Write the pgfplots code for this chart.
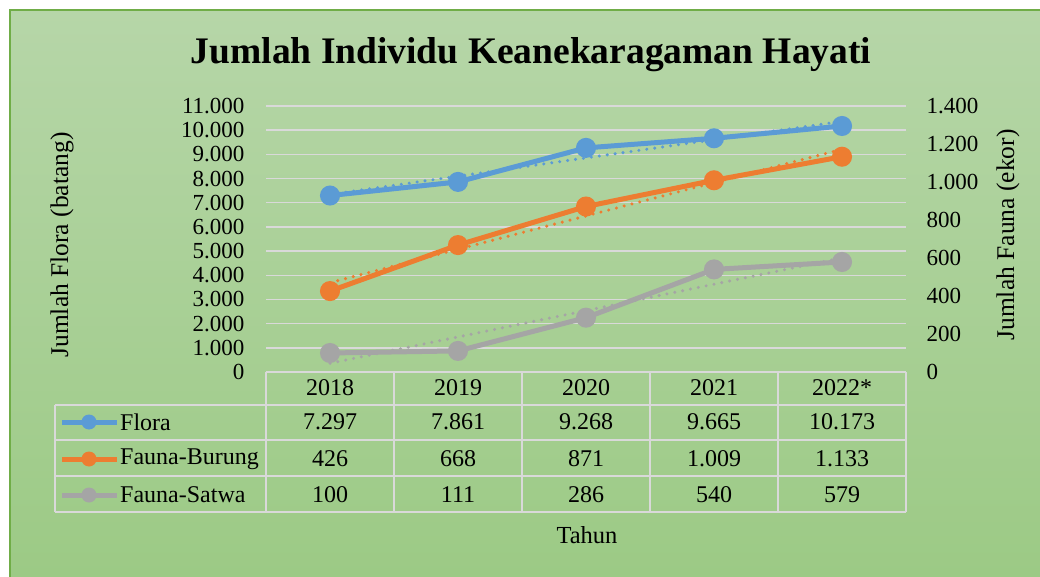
\documentclass[border=0pt]{standalone}
\usepackage{pgfplots}
\pgfplotsset{compat=1.18}
\usepackage{fontspec}
\setmainfont{Liberation Serif}
\definecolor{cFlora}{HTML}{5B9BD5}
\definecolor{cBurung}{HTML}{ED7D31}
\definecolor{cSatwa}{HTML}{A5A5A5}
\definecolor{bgtop}{HTML}{B6D6A8}
\definecolor{bgbot}{HTML}{9CCA85}
\definecolor{framec}{HTML}{70AD47}
\definecolor{gridc}{HTML}{D9D9D9}
\newcommand{\fs}{\fontsize{23}{27}\selectfont}
\newcommand{\ft}{\fontsize{24}{28}\selectfont}
\newcommand{\fa}{\fontsize{25.5}{30}\selectfont}
\begin{document}
\begin{tikzpicture}[x=1pt,y=1pt]
\useasboundingbox (0,0) rectangle (1040,576);
\fill[white] (0,0) rectangle (1040,576);
\shade[top color=bgtop,bottom color=bgbot] (10,0) rectangle (1040,566);
\draw[framec,line width=1.5pt] (10,-5) -- (10,566) -- (1045,566);

\begin{axis}[at={(266pt,204pt)}, anchor=south west, scale only axis,
  width=640pt, height=266pt, xmin=0.5, xmax=5.5, ymin=0, ymax=11000,
  hide x axis, axis y line*=left, y axis line style={draw=none},
  major tick length=0pt, scaled y ticks=false,
  ytick={0,1000,...,11000},
  yticklabels={0,1.000,2.000,3.000,4.000,5.000,6.000,7.000,8.000,9.000,10.000,11.000},
  yticklabel style={font=\fs, anchor=east, xshift=-18pt},
  ymajorgrids, grid style={gridc, line width=1.5pt},
  clip=false]
\addplot[cFlora, line width=5pt, mark=*, mark size=7.5pt, mark options={solid}]
  coordinates {(1,7297)(2,7861)(3,9268)(4,9665)(5,10173)};
\addplot[cFlora, line width=3.4pt, line cap=round, dash pattern=on 0pt off 8pt]
  coordinates {(1,7341.6)(5,10364)};
\end{axis}

\begin{axis}[at={(266pt,204pt)}, anchor=south west, scale only axis,
  width=640pt, height=266pt, xmin=0.5, xmax=5.5, ymin=0, ymax=1400,
  hide x axis, axis y line*=right, y axis line style={draw=none},
  major tick length=0pt, scaled y ticks=false,
  ytick={0,200,...,1400},
  yticklabels={0,200,400,600,800,1.000,1.200,1.400},
  yticklabel style={font=\fs, anchor=west, xshift=17pt},
  clip=false]
\addplot[cBurung, line width=5pt, mark=*, mark size=7.5pt, mark options={solid}]
  coordinates {(1,426)(2,668)(3,871)(4,1009)(5,1133)};
\addplot[cSatwa, line width=5pt, mark=*, mark size=7.5pt, mark options={solid}]
  coordinates {(1,100)(2,111)(3,286)(4,540)(5,579)};
\addplot[cBurung, line width=3.4pt, line cap=round, dash pattern=on 0pt off 8pt]
  coordinates {(1,470.4)(5,1172.4)};
\addplot[cSatwa, line width=3.4pt, line cap=round, dash pattern=on 0pt off 8pt]
  coordinates {(1,45.8)(5,600.6)};
\end{axis}

% title and axis labels
\node[font=\fontsize{37.5}{42}\selectfont\bfseries] at (531,521) {Jumlah Individu Keanekaragaman Hayati};
\node[font=\fa, rotate=90] at (62,331) {Jumlah Flora (batang)};
\node[font=\fa, rotate=90] at (1008,341) {Jumlah Fauna (ekor)};
\node[font=\fontsize{24.5}{29}\selectfont] at (587,41) {Tahun};

% data table
\begin{scope}[gridc, line width=1.5pt]
\draw (266,204) -- (906,204);
\foreach \yy in {171,136,100,64} \draw (55,\yy) -- (906,\yy);
\foreach \xx in {266,394,522,650,778,906} \draw (\xx,204) -- (\xx,64);
\draw (55,171) -- (55,64);
\end{scope}
\foreach \lab [count=\i] in {2018,2019,2020,2021,2022*}
  \node[font=\ft] at (266+128*\i-64,188) {\lab};
\foreach \lab [count=\i] in {7.297,7.861,9.268,9.665,10.173}
  \node[font=\ft] at (266+128*\i-64,154) {\lab};
\foreach \lab [count=\i] in {426,668,871,1.009,1.133}
  \node[font=\ft] at (266+128*\i-64,117) {\lab};
\foreach \lab [count=\i] in {100,111,286,540,579}
  \node[font=\ft] at (266+128*\i-64,81) {\lab};
% legend keys
\draw[cFlora, line width=5pt] (62,154) -- (117,154); \fill[cFlora] (89,154) circle (7.5);
\draw[cBurung, line width=5pt] (62,117) -- (117,117); \fill[cBurung] (89,117) circle (7.5);
\draw[cSatwa, line width=5pt] (62,81) -- (117,81); \fill[cSatwa] (89,81) circle (7.5);
\node[font=\ft, anchor=west, inner sep=0pt] at (120,154) {Flora};
\node[font=\ft, anchor=west, inner sep=0pt] at (120,117) {Fauna-Burung};
\node[font=\ft, anchor=west, inner sep=0pt] at (120,81) {Fauna-Satwa};
\end{tikzpicture}
\end{document}
